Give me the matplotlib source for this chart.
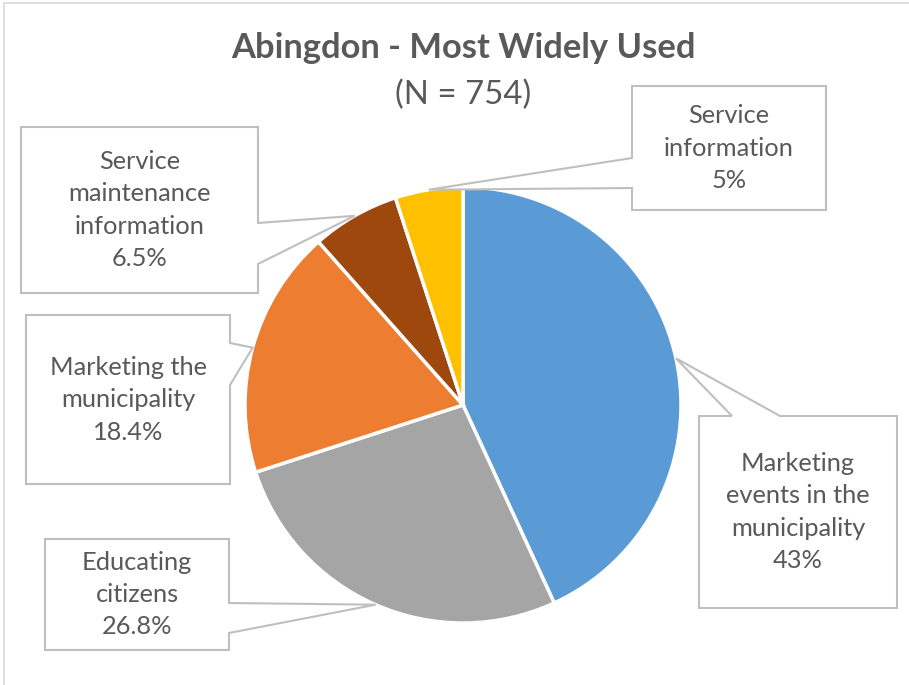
import numpy as np
import matplotlib
matplotlib.use("Agg")
import matplotlib.pyplot as plt
from matplotlib.patches import Polygon, Rectangle

title = "Abingdon - Most Widely Used"
subtitle = "(N = 754)"
categories = ["Marketing\nevents in the\nmunicipality", "Educating\ncitizens",
              "Marketing the\nmunicipality", "Service\nmaintenance\ninformation",
              "Service\ninformation"]
values = [43, 26.8, 18.4, 6.5, 5]
pct_labels = ["43%", "26.8%", "18.4%", "6.5%", "5%"]
colors = ["#5B9BD5", "#A5A5A5", "#ED7D31", "#9E480E", "#FFC000"]

W, H = 909, 685
FONT = "Lato"
TXT = "#595959"
EDGE = "#BFBFBF"

fig = plt.figure(figsize=(W / 100, H / 100), dpi=100)
ax = fig.add_axes([0, 0, 1, 1])

def Y(y):
    return H - y

cx, cy, R = 463, Y(405), 218
wedges, _ = ax.pie(values, colors=colors, startangle=90, counterclock=False,
                   center=(cx, cy), radius=R, normalize=True,
                   wedgeprops=dict(edgecolor="white", linewidth=2.5))
ax.set_xlim(0, W)
ax.set_ylim(0, H)
ax.axis("off")

# outer chart frame
ax.add_patch(Rectangle((4, -10), W + 10, Y(3) + 10, fill=False,
                       edgecolor="#D9D9D9", linewidth=1.2, zorder=0))

# callout boxes: left, top, right, bottom, side of pointer, base1, base2 (pixel coords)
boxes = [
    (699, 416, 897, 608, "top", 732, 780),
    (45, 539, 229, 650, "right", 603, 633),
    (26, 315, 230, 484, "right", 343, 385),
    (21, 127, 258, 293, "right", 223, 264),
    (632, 86, 826, 210, "left", 158, 188),
]

for w, box, cat, pct in zip(wedges, boxes, categories, pct_labels):
    ang = np.deg2rad((w.theta1 + w.theta2) / 2)
    tip = (cx + R * np.cos(ang), cy + R * np.sin(ang))
    l, t, r, b, side, b1, b2 = box
    if side == "left":
        pts = [(l, Y(t)), (r, Y(t)), (r, Y(b)), (l, Y(b)), (l, Y(b2)), tip, (l, Y(b1))]
    elif side == "right":
        pts = [(l, Y(t)), (r, Y(t)), (r, Y(b1)), tip, (r, Y(b2)), (r, Y(b)), (l, Y(b))]
    else:
        pts = [(l, Y(t)), (b1, Y(t)), tip, (b2, Y(t)), (r, Y(t)), (r, Y(b)), (l, Y(b))]
    ax.add_patch(Polygon(pts, closed=True, facecolor="white", edgecolor=EDGE,
                         linewidth=1.5, zorder=3, joinstyle="miter"))
    ax.text((l + r) / 2, Y((t + b) / 2), cat + "\n" + pct, ha="center", va="center",
            fontsize=18.3, color=TXT, family=FONT, linespacing=1.5, zorder=4)

ax.text(463, Y(48), title, ha="center", va="center", fontsize=24.8, fontweight="bold",
        color=TXT, family=FONT)
ax.text(463, Y(95), subtitle, ha="center", va="center", fontsize=23.8,
        color=TXT, family=FONT)

fig.savefig("out.png", dpi=100, facecolor="white")
